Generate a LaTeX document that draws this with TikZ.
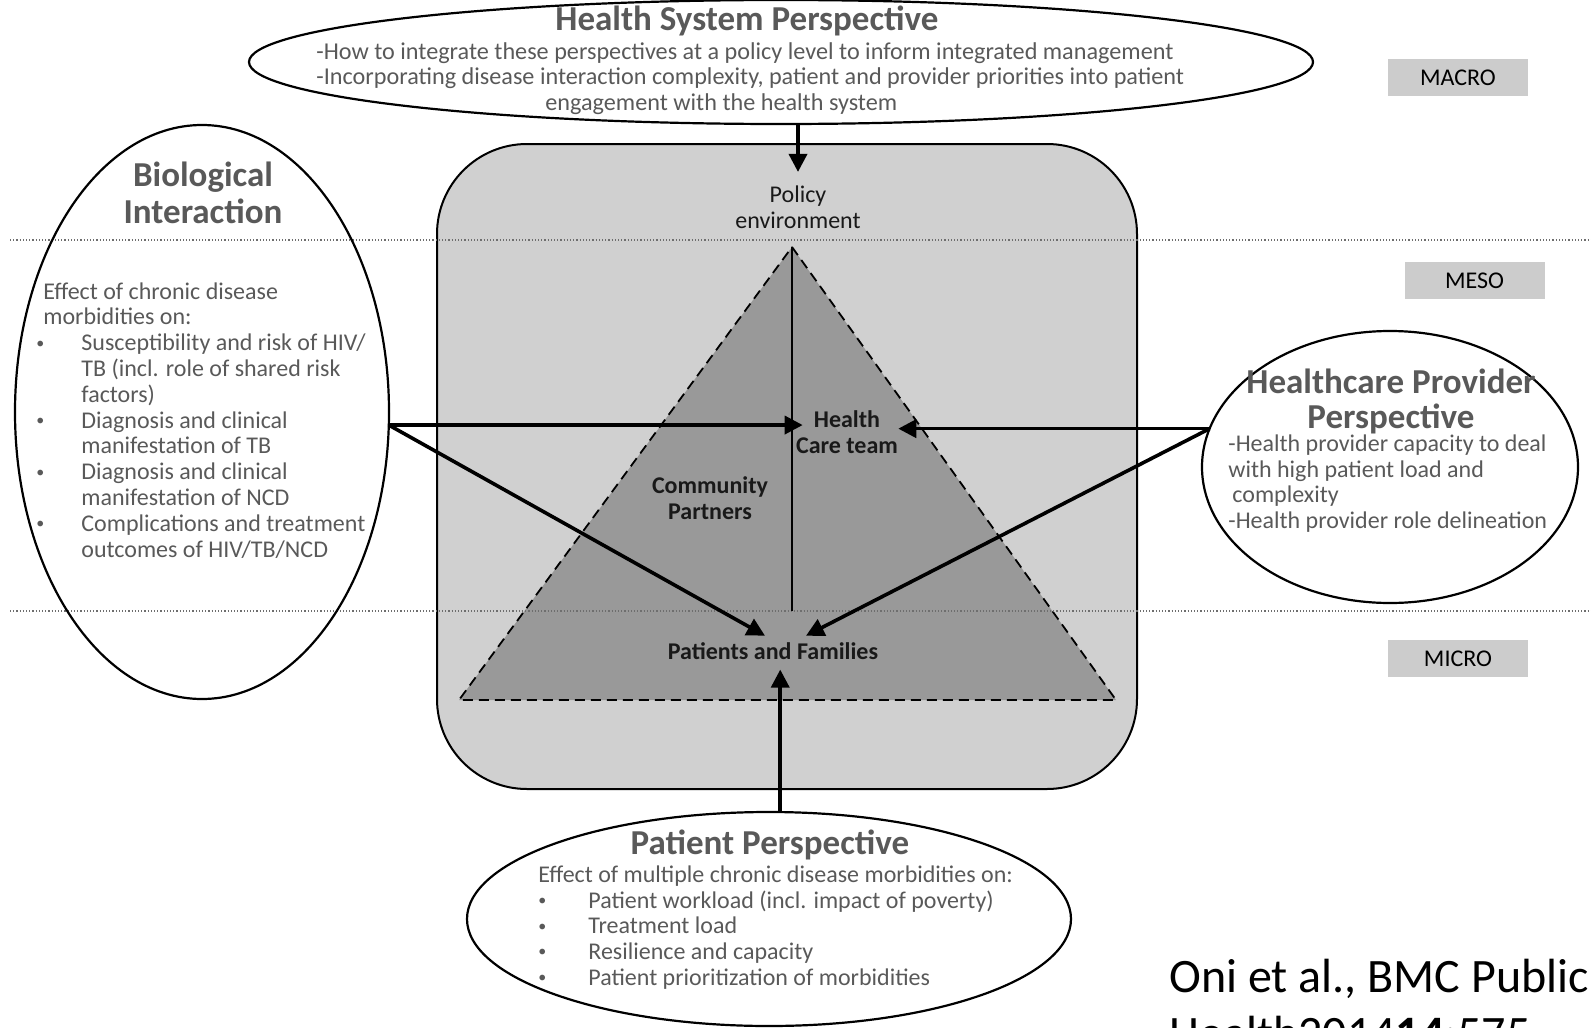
\documentclass[tikz,border=0pt]{standalone}
\usepackage{fontspec}
\setmainfont{Carlito}
\usetikzlibrary{shapes.geometric,arrows.meta,calc}

\definecolor{inkgray}{RGB}{89,89,89}
\definecolor{panelgray}{RGB}{208,208,208}
\definecolor{pyramidgray}{RGB}{153,153,153}
\definecolor{levelgray}{RGB}{204,204,204}
\definecolor{rulegray}{RGB}{110,110,110}

\tikzset{oval:style/.style={draw,shape=ellipse,line width=1.1pt,inner sep=0pt,outer sep=0pt}}
\tikzset{title:style/.style={font=\fontsize{17.5}{18.5}\selectfont\bfseries,text=inkgray,align=center,inner sep=0pt}}
\tikzset{body:style/.style={font=\fontsize{12}{12.9}\selectfont,text=inkgray,align=left,inner sep=0pt}}
\tikzset{team:style/.style={font=\fontsize{12}{13}\selectfont\bfseries,text=black!90,align=center,inner sep=0pt}}
\tikzset{level:style/.style={fill=levelgray,minimum width=70pt,minimum height=18.5pt,inner sep=0pt,font=\fontsize{12}{14}\selectfont}}
\tikzset{level:line/.style={draw=rulegray,line width=0.6pt,densely dotted}}
\tikzset{edge:style/.style={draw,line width=1.8pt,-{Triangle[length=9pt,width=9pt]}}}
\def\dotitem#1{\makebox[#1][l]{\raisebox{1.3pt}{\fontsize{8}{8}\selectfont\textbullet}}}
\def\noitem#1{\hspace*{#1}}

\begin{document}
\begin{tikzpicture}[x=0.5pt,y=-0.5pt]
\useasboundingbox (0,0) rectangle (1591,1028);
\clip (0,0) rectangle (1591,1028);

% panel and pyramid
\path[fill=panelgray,draw,line width=1pt,rounded corners=45pt] (437,144) rectangle (1137,789);
\path
	(792,247) coordinate (apex)
	(459,700) coordinate (baseL)
	(1116,700) coordinate (baseR);
\path[fill=pyramidgray,draw,line width=0.9pt,dash pattern=on 5pt off 3pt] (apex) -- (baseR) -- (baseL) -- cycle;

% level lines
\path
	(10,240) coordinate (mesoL)
	(1591,240) coordinate (mesoR)
	(10,611) coordinate (microL)
	(1591,611) coordinate (microR);
\path[level:line] (mesoL) -- (mesoR);
\path[level:line] (microL) -- (microR);
\path[draw,line width=0.6pt] (apex) -- (apex |- microL);

% perspectives (multi-line texts sit on their last baseline)
\path (781,62) node[oval:style,minimum width=532pt,minimum height=62pt] (sys) {};
\path (202,412) node[oval:style,minimum width=187pt,minimum height=287pt] (bio) {};
\path (1390,467) node[oval:style,minimum width=188pt,minimum height=136pt] (prov) {};
\path (769,919) node[oval:style,minimum width=302pt,minimum height=107pt] (pat) {};

\path (747,30) node[title:style,anchor=base] (systitle) {Health System Perspective};
\path (316,110) node[body:style,anchor=base west,font=\fontsize{12.1}{12.6}\selectfont] (systext)
	{-How to integrate these perspectives at a policy level to inform integrated management\\
	-Incorporating disease interaction complexity, patient and provider priorities into patient\\
	\noitem{114.5pt}engagement with the health system};

\path (203,223) node[title:style,anchor=base] (biotitle) {Biological\\Interaction};
\path (36,557) node[body:style,anchor=base west] (biotext)
	{\noitem{3.5pt}Effect of chronic disease\\
	\noitem{3.5pt}morbidities on:\\
	\dotitem{22.5pt}Susceptibility and risk of HIV/\\
	\noitem{22.5pt}TB (incl. role of shared risk\\
	\noitem{22.5pt}factors)\\
	\dotitem{22.5pt}Diagnosis and clinical\\
	\noitem{22.5pt}manifestation of TB\\
	\dotitem{22.5pt}Diagnosis and clinical\\
	\noitem{22.5pt}manifestation of NCD\\
	\dotitem{22.5pt}Complications and treatment\\
	\noitem{22.5pt}outcomes of HIV/TB/NCD};

\path (1391,428) node[title:style,anchor=base,font=\fontsize{17.5}{17.5}\selectfont\bfseries] (provtitle) {Healthcare Provider\\Perspective};
\path (1228,528) node[body:style,anchor=base west,font=\fontsize{12}{12.7}\selectfont] (provtext)
	{-Health provider capacity to deal\\
	with high patient load and\\
	\noitem{2pt}complexity\\
	-Health provider role delineation};

\path (770,854) node[title:style,anchor=base] (pattitle) {Patient Perspective};
\path (538,985) node[body:style,anchor=base west,font=\fontsize{12}{12.8}\selectfont] (pattext)
	{Effect of multiple chronic disease morbidities on:\\
	\dotitem{25pt}Patient workload (incl. impact of poverty)\\
	\dotitem{25pt}Treatment load\\
	\dotitem{25pt}Resilience and capacity\\
	\dotitem{25pt}Patient prioritization of morbidities};

% inside the panel
\path (798,228) node[team:style,anchor=base,font=\fontsize{12}{13}\selectfont] (policy) {Policy\\environment};
\path (847,453) node[team:style,anchor=base] (team) {Health\\Care team};
\path (710,519) node[team:style,anchor=base] (partners) {Community\\Partners};
\path (773,659) node[team:style,anchor=base] (families) {Patients and Families};

% levels
\path (1458,77.5) node[level:style] (macro) {MACRO};
\path (1474.5,280.5) node[level:style] (meso) {MESO};
\path (1458,658.5) node[level:style] (micro) {MICRO};

\path (1169,1049) node[anchor=base west,inner sep=0pt,align=left,font=\fontsize{24}{28.5}\selectfont] (cite)
	{Oni et al., BMC Public\\Health2014\textbf{14}:575};

% arrows
\path[edge:style] (sys.south -| policy.north) -- ([yshift=6.5pt]policy.north);
\path[edge:style,shorten >=-3.5pt] (bio.-4) -- (bio.-4 -| team.west);
\path[edge:style] (bio.-4) -- ($(families.north)+(-8,-6)$);
\path[edge:style] (prov.168) -- (prov.168 -| team.east);
\path[edge:style] (prov.168) -- ($(families.north)+(33,-6)$);
\path[edge:style,shorten >=5pt] (pat.84) -- (pat.84 |- families.south);

\end{tikzpicture}
\end{document}
